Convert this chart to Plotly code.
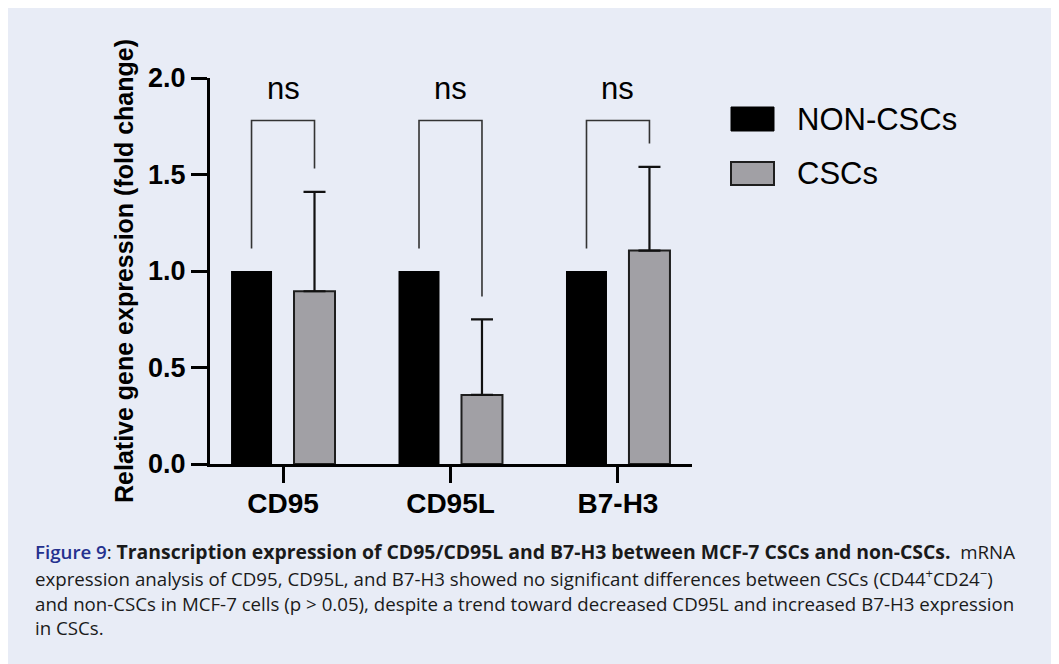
import plotly.graph_objects as go

categories = ["CD95", "CD95L", "B7-H3"]
non_cscs = [1.0, 1.0, 1.0]
cscs = [0.895, 0.358, 1.106]
cscs_err = [0.515, 0.391, 0.434]
sig_labels = ["ns", "ns", "ns"]
bracket_top = [1.78, 1.78, 1.78]
bracket_left_end = [1.117, 1.117, 1.117]
bracket_right_end = [1.531, 0.868, 1.66]
y_ticks = [0.0, 0.5, 1.0, 1.5, 2.0]
y_tick_labels = ["0.0", "0.5", "1.0", "1.5", "2.0"]

# page body has an 8px margin; figure occupies (8,8)-(1054,664) of the window
OX, OY = 8, 8
W, H = 1054 - OX, 664 - OY
# plot area in window pixels
PX0, PX1, PY0, PY1 = 210, 692, 78, 464
L, R, T, B = PX0 - OX, (OX + W) - PX1, PY0 - OY, (OY + H) - PY1
BG = "#e8ecf6"
GRAY = "#a1a0a5"
ARIAL = "Liberation Sans, Arial, sans-serif"
CAP = "Open Sans, Noto Sans, sans-serif"


def px(x):
    return (x - PX0) / (PX1 - PX0)


def py(y):
    return (PY1 - y) / (PY1 - PY0)


fig = go.Figure()
fig.add_trace(go.Bar(x=categories, y=non_cscs, name="NON-CSCs",
                     marker=dict(color="black", line=dict(color="black", width=0)),
                     showlegend=False))
fig.add_trace(go.Bar(x=categories, y=cscs, name="CSCs",
                     marker=dict(color=GRAY, line=dict(color="#1e1e1e", width=2)),
                     error_y=dict(type="data", symmetric=False, array=cscs_err,
                                  arrayminus=[0] * len(cscs), color="#111", thickness=2.2,
                                  width=11),
                     showlegend=False))

shapes = []
off = 0.188
for i in range(len(categories)):
    shapes.append(dict(type="path", xref="x", yref="y",
                       path=f"M {i-off},{bracket_left_end[i]} L {i-off},{bracket_top[i]} "
                            f"L {i+off},{bracket_top[i]} L {i+off},{bracket_right_end[i]}",
                       line=dict(color="#333", width=1.6)))

annotations = []
for i, s in enumerate(sig_labels):
    annotations.append(dict(x=i, y=1.945, xref="x", yref="y", text=s, showarrow=False,
                            font=dict(family=ARIAL, size=31, color="black"),
                            xanchor="center", yanchor="middle"))

# legend (drawn manually)
shapes.append(dict(type="rect", xref="paper", yref="paper", x0=px(731), x1=px(774),
                   y0=py(131), y1=py(107), fillcolor="black", line=dict(color="black", width=1)))
shapes.append(dict(type="rect", xref="paper", yref="paper", x0=px(731), x1=px(774),
                   y0=py(185), y1=py(162), fillcolor=GRAY, line=dict(color="#1e1e1e", width=2)))
for name, yc in [("NON-CSCs", 119), ("CSCs", 173)]:
    annotations.append(dict(x=px(795), y=py(yc), xref="paper", yref="paper", text=name,
                            showarrow=False, xanchor="left", yanchor="middle",
                            font=dict(family=ARIAL, size=31, color="black")))

# caption
cap_lines = [
    "<span style='color:#24318f;font-weight:600'>Figure 9</span>: "
    "<span style='font-size:19.4px'><b>Transcription expression of CD95/CD95L and B7-H3 between MCF-7 CSCs and non-CSCs.</b></span>  mRNA",
    "expression analysis of CD95, CD95L, and B7-H3 showed no significant differences between CSCs (CD44<sup>+</sup>CD24<sup>−</sup>)",
    "and non-CSCs in MCF-7 cells (p &gt; 0.05), despite a trend toward decreased CD95L and increased B7-H3 expression",
    "in CSCs.",
]
cap_y = [551, 577, 603, 627]
for t, yc in zip(cap_lines, cap_y):
    annotations.append(dict(x=px(33), y=py(yc), xref="paper", yref="paper", text=t,
                            showarrow=False, xanchor="left", yanchor="middle", align="left",
                            font=dict(family=CAP, size=18.7, color="#1a1a1a")))

fig.update_layout(
    width=W, height=H,
    margin=dict(l=L, r=R, t=T, b=B, pad=0),
    paper_bgcolor=BG, plot_bgcolor="rgba(0,0,0,0)",
    barmode="group", bargap=0.248, bargroupgap=0.349,
    shapes=shapes, annotations=annotations,
    showlegend=False,
    xaxis=dict(range=[-0.436, 2.442], showline=True, linecolor="black", linewidth=3,
               ticks="outside", ticklen=16, tickwidth=3, tickcolor="black",
               showgrid=False, zeroline=False, ticklabelstandoff=-4,
               tickfont=dict(family=ARIAL, size=28, color="black", weight="bold")),
    yaxis=dict(range=[0, 2], showline=True, linecolor="black", linewidth=3,
               ticks="outside", ticklen=16, tickwidth=3, tickcolor="black",
               tickvals=y_ticks, ticktext=y_tick_labels,
               showgrid=False, zeroline=False,
               tickfont=dict(family=ARIAL, size=27, color="black", weight="bold"),
               title=dict(text="Relative gene expression (fold change)", standoff=8,
                          font=dict(family=ARIAL, size=25, color="black", weight="bold"))),
)

fig.write_html("out.html")
